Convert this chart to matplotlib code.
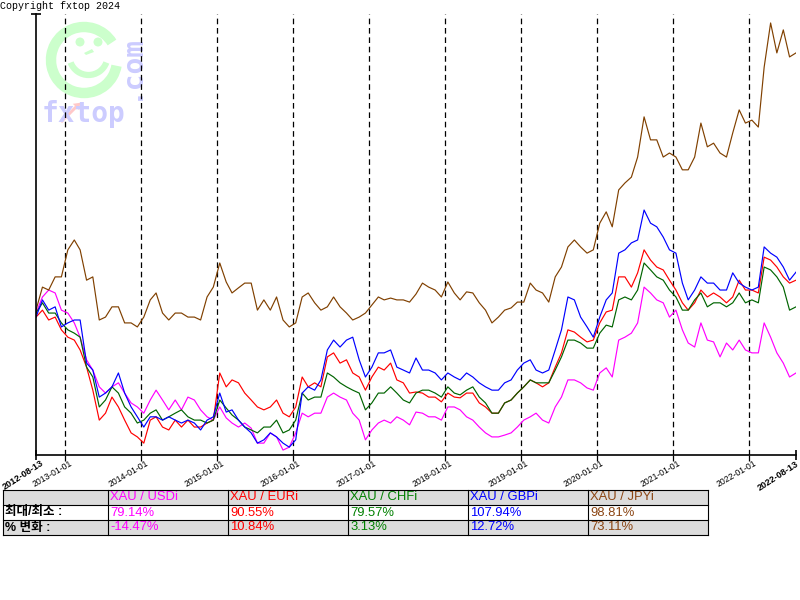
import matplotlib
matplotlib.use('Agg')
import matplotlib.pyplot as plt
import matplotlib.dates as mdates
from matplotlib.patches import Rectangle, Circle, Arc, Polygon, FancyArrow
import pandas as pd

# monthly samples, 2012-08-13 .. 2022-08-13, % change from start
dates = pd.date_range('2012-08-13', '2022-08-13', freq=pd.DateOffset(months=1))

usd = [1.9, 6.3, 8.2, 7.4, 2.7, 1.9, -0.8, -4.7, -10.9, -13.7,
       -18.3, -20.0, -18.3, -17.2, -20.0, -22.7, -23.8, -25.5, -21.9, -19.2,
       -21.9, -24.6, -21.9, -24.6, -21.1, -21.9, -24.6, -26.5, -27.4, -23.8,
       -26.8, -28.2, -29.3, -28.2, -29.6, -33.7, -33.7, -30.9, -32.0, -35.6,
       -34.8, -30.9, -25.5, -26.5, -25.5, -25.5, -21.1, -20.0, -21.1, -21.9,
       -25.5, -27.4, -32.8, -30.1, -28.2, -27.4, -28.2, -26.5, -27.4, -28.7,
       -25.2, -25.5, -26.5, -26.5, -27.4, -23.8, -23.8, -24.6, -26.5, -27.4,
       -29.3, -30.9, -32.0, -32.0, -31.5, -30.9, -29.3, -27.4, -26.5, -25.5,
       -27.4, -28.2, -23.8, -21.1, -16.4, -16.4, -17.2, -18.6, -19.2, -14.5,
       -13.1, -15.6, -5.5, -4.7, -3.6, -0.8, 9.0, 7.4, 5.5, 4.7,
       0.8, 2.7, -2.7, -6.3, -7.4, -0.8, -5.5, -6.0, -10.1, -6.3,
       -8.2, -5.5, -8.2, -9.0, -9.0, -0.8, -4.7, -9.0, -11.8, -15.6,
       -14.5]

eur = [0.8, 2.7, 0.0, 0.8, -2.7, -4.7, -5.5, -8.2, -12.9, -19.2,
       -27.4, -25.5, -21.1, -23.8, -27.4, -30.9, -32.0, -33.7, -27.4, -26.5,
       -29.3, -30.1, -27.4, -29.3, -27.4, -29.3, -29.3, -28.2, -27.4, -14.5,
       -18.3, -16.4, -17.2, -20.0, -21.9, -23.8, -24.6, -23.8, -21.9, -25.5,
       -26.5, -23.8, -15.6, -18.3, -17.2, -18.3, -10.1, -9.0, -11.8, -10.9,
       -14.5, -15.6, -19.2, -15.6, -12.9, -13.7, -11.8, -16.4, -17.2, -20.0,
       -19.7, -20.0, -21.1, -21.1, -22.4, -20.0, -21.1, -21.3, -20.0, -20.0,
       -22.7, -23.8, -25.5, -25.5, -22.7, -21.9, -20.0, -18.3, -16.4, -17.2,
       -18.3, -17.2, -12.9, -9.0, -2.7, -3.3, -4.7, -6.0, -5.5, -0.8,
       2.2, 2.7, 11.8, 11.8, 9.0, 12.9, 19.2, 16.4, 14.5, 13.7,
       10.9, 8.2, 4.7, 2.7, 4.7, 8.2, 6.3, 7.4, 6.3, 4.7,
       6.3, 10.9, 8.2, 8.2, 7.4, 17.2, 16.4, 14.5, 11.8, 10.1,
       10.9]

chf = [1.9, 4.7, 1.9, 1.9, -0.8, -2.7, -3.6, -4.7, -12.9, -15.6,
       -23.8, -21.9, -18.3, -20.0, -23.8, -25.5, -28.2, -27.4, -25.5, -24.6,
       -27.4, -26.5, -25.5, -24.6, -26.5, -27.4, -27.4, -28.2, -27.4, -21.9,
       -24.1, -26.0, -27.4, -29.3, -30.1, -30.9, -29.3, -29.3, -27.4, -30.9,
       -30.1, -27.4, -20.0, -21.9, -21.1, -21.1, -14.5, -15.6, -17.2, -18.3,
       -19.2, -20.0, -24.6, -22.7, -20.0, -20.0, -18.3, -20.0, -21.9, -22.7,
       -20.0, -19.2, -19.2, -20.0, -21.1, -18.3, -20.0, -20.5, -19.2, -18.3,
       -21.1, -22.7, -25.5, -25.5, -22.7, -21.9, -20.0, -18.3, -16.4, -17.2,
       -17.2, -17.2, -13.7, -10.1, -5.5, -5.5, -6.3, -7.7, -7.7, -3.6,
       -1.4, -1.9, 5.5, 6.3, 5.5, 8.2, 15.6, 13.7, 11.8, 10.9,
       8.2, 6.3, 2.7, 2.7, 5.5, 7.4, 3.6, 4.7, 4.7, 3.6,
       4.7, 7.4, 4.7, 5.5, 4.7, 14.5, 13.7, 11.8, 9.0, 2.7,
       3.6]

gbp = [0.8, 5.5, 2.7, 3.6, -1.9, -0.8, 0.0, 0.0, -11.8, -13.7,
       -21.1, -20.0, -18.3, -14.5, -20.0, -23.8, -26.5, -29.3, -26.5, -26.5,
       -27.4, -26.5, -27.4, -28.2, -27.4, -28.2, -30.1, -27.4, -26.5, -20.0,
       -25.2, -24.6, -27.4, -29.3, -30.9, -33.7, -32.8, -30.9, -32.0, -33.7,
       -34.8, -32.8, -20.0, -18.3, -19.2, -16.4, -8.2, -5.5, -7.4, -5.5,
       -4.7, -10.9, -15.6, -12.9, -9.0, -9.0, -8.2, -12.9, -13.7, -14.5,
       -10.4, -13.7, -13.7, -14.5, -16.4, -14.5, -15.6, -16.4, -14.5, -15.6,
       -17.2, -18.3, -19.2, -19.2, -17.2, -16.4, -13.7, -11.8, -10.9, -13.7,
       -14.5, -13.7, -8.2, -2.7, 6.3, 5.5, 0.8, -1.9, -4.7, 0.8,
       5.5, 7.4, 18.3, 19.2, 21.1, 21.9, 30.1, 26.5, 25.5, 22.7,
       19.2, 18.3, 10.1, 5.5, 8.2, 11.8, 10.1, 10.1, 8.2, 8.2,
       12.9, 10.1, 9.0, 8.2, 9.0, 20.0, 18.3, 17.2, 14.5, 10.9,
       13.1]

jpy = [2.7, 9.0, 8.2, 11.8, 11.8, 19.2, 21.9, 19.2, 10.9, 11.8,
       0.0, 0.8, 3.6, 3.6, -0.8, -0.8, -1.9, 0.8, 5.5, 7.4,
       1.9, 0.0, 1.9, 1.9, 0.8, 0.8, 0.0, 6.3, 9.0, 15.6,
       10.4, 7.4, 8.8, 10.1, 10.1, 2.7, 5.5, 2.7, 6.3, 0.0,
       -1.9, -0.8, 6.3, 7.4, 4.7, 2.7, 3.6, 6.3, 3.6, 1.9,
       0.0, 0.8, 1.9, 4.1, 6.3, 5.5, 6.0, 5.5, 5.5, 4.9,
       7.1, 10.1, 9.0, 8.2, 6.3, 10.4, 7.4, 5.5, 7.7, 7.4,
       4.7, 2.7, -0.8, 0.8, 2.7, 3.3, 4.9, 4.9, 10.1, 8.2,
       7.4, 4.9, 11.8, 14.5, 20.0, 21.9, 20.0, 18.3, 19.2, 26.5,
       29.6, 25.5, 35.6, 37.5, 39.1, 44.6, 55.6, 49.3, 49.3, 44.6,
       45.7, 44.6, 41.1, 41.1, 44.6, 53.9, 47.4, 48.4, 45.7, 44.6,
       51.2, 57.5, 53.9, 54.7, 52.8, 69.2, 81.3, 73.1, 79.4, 72.0,
       73.1]

names = ['XAU / USDi', 'XAU / EURi', 'XAU / CHFi', 'XAU / GBPi', 'XAU / JPYi']
colors = ['#ff00ff', '#ff0000', '#006400', '#0000ff', '#804000']
text_colors = ['#ff00ff', '#ff0000', '#008000', '#0000ff', '#8b4513']
maxmin = ['79.14%', '90.55%', '79.57%', '107.94%', '98.81%']
change = ['-14.47%', '10.84%', '3.13%', '12.72%', '73.11%']
row_labels = ['최대/최소 :', '% 변화 :']
year_ticks = ['2013-01-01', '2014-01-01', '2015-01-01', '2016-01-01', '2017-01-01',
              '2018-01-01', '2019-01-01', '2020-01-01', '2021-01-01', '2022-01-01']
end_ticks = ['2012-08-13', '2022-08-13']

fig = plt.figure(figsize=(8, 6), dpi=100)
fig.patch.set_facecolor('white')

# background layer in pixel units (y up)
bg = fig.add_axes([0, 0, 1, 1], zorder=0)
bg.set_xlim(0, 800)
bg.set_ylim(0, 600)
bg.axis('off')

# watermark logo
wm_green = '#ccffcc'
wm_blue = '#ccccff'
bg.add_patch(Arc((84, 540), 66, 66, theta1=32, theta2=350, lw=7.5, color=wm_green))
bg.add_patch(Circle((80, 558), 4.5, color=wm_green, lw=0))
bg.add_patch(Circle((98, 558), 4.5, color=wm_green, lw=0))
bg.add_patch(Polygon([[84, 547], [92, 551], [94, 548], [86, 545]], color=wm_green, lw=0))
bg.add_patch(Arc((88.5, 544), 38, 38, theta1=200, theta2=340, lw=4.5, color=wm_green))
bg.text(42, 478, 'fxtop', family='DejaVu Sans Mono', fontweight='bold', fontsize=20,
        color=wm_blue, ha='left', va='baseline')
bg.text(138, 500, '.com', family='DejaVu Sans Mono', fontweight='bold', fontsize=20,
        color=wm_blue, rotation=90, rotation_mode='anchor', ha='left', va='baseline')
bg.add_patch(FancyArrow(61, 478, 15, 15, width=3, head_width=9, head_length=6,
                        color='#ffc8c8', lw=0))

fig.text(0.0, 1 - 1 / 600, 'Copyright fxtop 2024', family='Liberation Mono',
         fontsize=7.2, ha='left', va='top')

# main chart
ax = fig.add_axes([36 / 800, 145 / 600, 760 / 800, 441 / 600], zorder=1)
ax.patch.set_alpha(0)
for vals, c in zip([usd, eur, chf, gbp, jpy], colors):
    ax.plot(dates, vals, color=c, lw=0.85)

ymin, ymax = -36.95, 83.75
ax.set_xlim(dates[0], dates[-1])
ax.set_ylim(ymin, ymax)

for d in year_ticks:
    ax.axvline(pd.Timestamp(d), color='black', lw=0.9, ls=(0, (4.5, 3)), zorder=0.5)

for s in ['top', 'right']:
    ax.spines[s].set_visible(False)
for s in ['left', 'bottom']:
    ax.spines[s].set_linewidth(1.2)

ax.set_xticks([pd.Timestamp(d) for d in year_ticks])
ax.set_xticks([pd.Timestamp(d) for d in end_ticks], minor=True)
ax.tick_params(axis='x', which='major', length=4, width=0.9, direction='out', labelbottom=False)
ax.tick_params(axis='x', which='minor', length=7, width=1.2, direction='inout', labelbottom=False)
ax.set_yticks([ymax])
ax.tick_params(axis='y', length=7, width=1.2, direction='inout', labelleft=False)

for d in year_ticks:
    ax.annotate(d, xy=(mdates.date2num(pd.Timestamp(d)), 0), xycoords=('data', 'axes fraction'),
                xytext=(6, -8), textcoords='offset pixels', rotation=30, rotation_mode='anchor',
                ha='right', va='center', fontsize=6.2, family='Liberation Sans')
end_offsets = [(7, -7), (2, -8)]
for d, off in zip(end_ticks, end_offsets):
    ax.annotate(d, xy=(mdates.date2num(pd.Timestamp(d)), 0), xycoords=('data', 'axes fraction'),
                xytext=off, textcoords='offset pixels', rotation=33, rotation_mode='anchor',
                ha='right', va='center', fontsize=6.6, fontweight='bold', family='Liberation Sans',
                annotation_clip=False)

# summary table
col_x = [3, 108, 228, 348, 468, 588, 708]
row_y = [490, 505, 520, 535]
fills = ['#dcdcdc', 'white', '#dcdcdc']
for r in range(3):
    bg.add_patch(Rectangle((col_x[0], 600 - row_y[r + 1]), col_x[-1] - col_x[0],
                           row_y[r + 1] - row_y[r], facecolor=fills[r], edgecolor='none'))
for x in col_x:
    bg.plot([x, x], [600 - row_y[0], 600 - row_y[-1]], color='black', lw=0.8)
for y in row_y:
    bg.plot([col_x[0], col_x[-1]], [600 - y, 600 - y], color='black', lw=0.8)

tfont = ['Liberation Sans', 'Noto Sans CJK KR']
rows = [names, maxmin, change]
for r in range(3):
    yc = 600 - (row_y[r] + row_y[r + 1]) / 2
    if r > 0:
        bg.text(col_x[0] + 2, yc, row_labels[r - 1], family=tfont, fontsize=9,
                fontweight='bold', ha='left', va='center')
    for i in range(5):
        bg.text(col_x[i + 1] + 2, yc, rows[r][i], family=tfont, fontsize=9.4,
                color=text_colors[i], ha='left', va='center')

fig.savefig('out.png', dpi=100)
